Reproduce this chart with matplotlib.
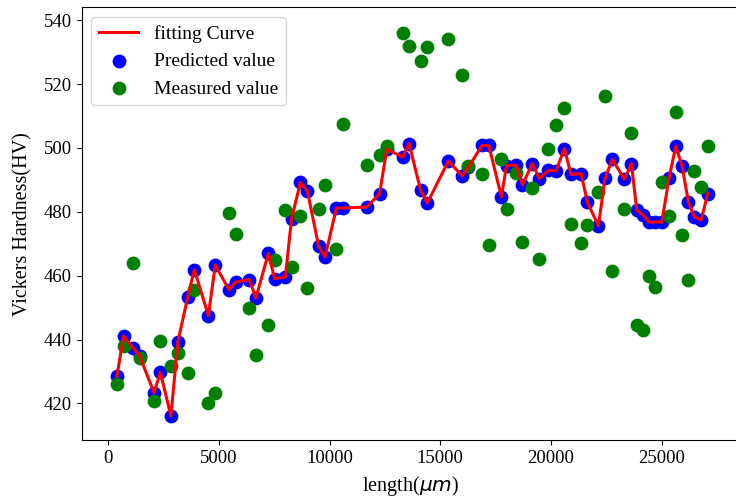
import matplotlib
matplotlib.use("Agg")
import matplotlib.pyplot as plt

# sample positions along the length (um)
length = [400, 700, 1120, 1430, 2077, 2360, 2840, 3147, 3600, 3897,
          4529, 4840, 5463, 5766, 6380, 6675, 7238, 7520, 8005, 8285,
          8685, 8999, 9510, 9798, 10310, 10624, 11681, 12260, 12584, 13300,
          13590, 14110, 14417, 15365, 15997, 16268, 16890, 17190, 17760, 17990,
          18440, 18710, 19158, 19474, 19880, 20220, 20603, 20900, 21356, 21641,
          22138, 22440, 22770, 23312, 23630, 23871, 24170, 24427, 24710, 25000,
          25330, 25632, 25915, 26201, 26472, 26775, 27077]

predicted = [428.5, 441.1, 437.5, 434.8, 423.3, 429.7, 416.1, 439.1, 453.4, 461.9,
             447.5, 463.3, 455.6, 458.0, 458.8, 453.0, 467.0, 459.1, 459.6, 477.9,
             489.2, 486.5, 469.2, 465.9, 481.2, 481.2, 481.5, 485.7, 499.6, 497.2,
             501.4, 486.8, 482.8, 495.9, 491.2, 494.0, 500.8, 500.8, 484.7, 494.5,
             494.6, 488.5, 495.1, 490.4, 493.0, 492.8, 499.8, 491.7, 492.0, 483.0,
             475.6, 490.6, 496.4, 490.2, 495.1, 480.5, 478.9, 476.8, 476.8, 476.8,
             490.6, 500.6, 494.3, 483.1, 478.4, 477.4, 485.7]

measured = [426.0, 438.0, 464.0, 434.1, 420.7, 439.5, 431.7, 435.8, 429.6, 455.5,
            420.0, 423.4, 479.7, 473.2, 449.9, 435.1, 444.7, 464.9, 480.5, 462.8,
            478.6, 456.0, 480.8, 488.3, 468.3, 507.4, 494.6, 497.7, 500.6, 536.1,
            531.9, 527.1, 531.5, 534.1, 522.8, 494.3, 491.8, 469.6, 496.4, 480.9,
            492.3, 470.5, 487.6, 465.2, 499.8, 507.3, 512.4, 476.3, 470.3, 475.8,
            486.2, 516.3, 461.5, 480.8, 504.7, 444.7, 442.9, 459.9, 456.5, 489.2,
            478.6, 511.3, 472.7, 458.6, 492.8, 487.8, 500.6]

plt.rcParams["font.family"] = ["Liberation Serif", "DejaVu Serif"]
plt.rcParams["font.size"] = 14

fig = plt.figure(figsize=(7.36, 4.99), dpi=100)
# axes runs slightly past the right edge, like the cropped original
ax = fig.add_axes([0.111, 0.118, 0.8935, 0.867])

ax.plot(length, predicted, color="red", linewidth=2.2, label="fitting Curve", zorder=3)
ax.scatter(length, predicted, color="blue", s=80, label="Predicted value", zorder=1)
ax.scatter(length, measured, color="green", s=80, label="Measured value", zorder=2)

ax.set_xlim(-1190, 28500)
ax.set_ylim(408.5, 544)
ax.set_xticks([0, 5000, 10000, 15000, 20000, 25000])
ax.set_yticks([420, 440, 460, 480, 500, 520, 540])
ax.tick_params(labelsize=13.5)

ax.set_xlabel(r"length($\mu m$)", fontsize=14.5, labelpad=5)
ax.set_ylabel("Vickers Hardness(HV)", fontsize=14.5, labelpad=8)
ax.legend(loc="upper left", fontsize=14)

fig.savefig("out.png", dpi=100)
